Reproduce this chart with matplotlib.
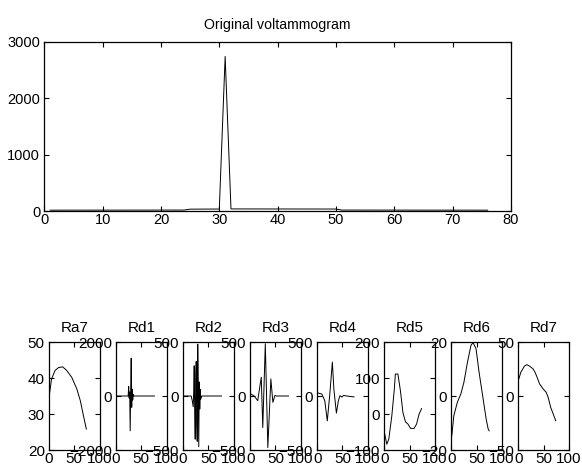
import matplotlib
matplotlib.use("Agg")
import matplotlib.pyplot as plt

plt.rcParams["font.family"] = ["Liberation Sans", "DejaVu Sans"]

# original voltammogram (points where the curve changes)
orig_x = [1, 24, 25, 30, 31, 32, 50, 51, 76]
orig_y = [20, 22, 38, 40, 2740, 42, 40, 22, 20]

# reconstructed components
ra7_x = [1, 5, 12, 19, 27, 35, 45, 55, 62, 69, 74]
ra7_y = [35.6, 39.7, 42.1, 42.9, 43.1, 42.1, 40.2, 37.0, 33.7, 29.0, 25.8]

rd1_x = [1, 24, 25, 26, 27, 28, 29, 30, 31, 32, 33, 34, 35, 76]
rd1_y = [0, 0, 360, -80, 150, -1290, 200, 1400, -420, 250, -150, 60, 0, 0]

rd2_x = [1, 16, 18, 20, 21, 22, 23, 24, 25, 26, 27, 28, 29, 30, 31, 32, 33, 34, 35, 37, 76]
rd2_y = [0, 0, -40, -100, 40, 280, -150, -400, 150, 320, -250, -420, 480, 120, -470, 130, -120, 60, -30, 0, 0]

rd3_x = [1, 8, 15, 22, 25, 30, 35, 41, 45, 49, 52, 76]
rd3_y = [20, 0, -43, 174, -292, 484, -478, 158, -59, 5, 0, 0]

rd4_x = [1, 9, 15, 20, 25, 30, 33, 38, 42, 45, 49, 52, 59, 66, 73]
rd4_y = [28, 19, -43, -230, 19, 314, 65, -158, -43, 3, -10, 5, 0, -5, -8]

rd5_x = [1, 5, 9, 15, 20, 22, 27, 32, 37, 42, 47, 52, 59, 64, 69, 74]
rd5_y = [-56, -84, -70, -5, 70, 111, 111, 65, 4, -22, -28, -40, -40, -28, 0, 15]

rd6_x = [1, 5, 12, 19, 25, 32, 39, 43, 49, 55, 62, 69, 73, 75]
rd6_y = [-14.8, -7.3, -2.3, 0.8, 5.1, 12.5, 18.8, 19.8, 17.5, 8.8, 0.2, -8.5, -12.2, -12.9]

rd7_x = [1, 5, 12, 17, 22, 29, 33, 37, 42, 49, 55, 59, 64, 69, 74]
rd7_y = [15.9, 22.0, 27.7, 29.0, 27.7, 25.2, 22.0, 17.5, 11.2, 6.6, 3.5, -1.2, -10.5, -16.6, -22.9]

panel_names = ["Ra7", "Rd1", "Rd2", "Rd3", "Rd4", "Rd5", "Rd6", "Rd7"]
panel_x = [ra7_x, rd1_x, rd2_x, rd3_x, rd4_x, rd5_x, rd6_x, rd7_x]
panel_y = [ra7_y, rd1_y, rd2_y, rd3_y, rd4_y, rd5_y, rd6_y, rd7_y]
panel_ylim = [(20, 50), (-2000, 2000), (-500, 500), (-500, 500),
              (-500, 500), (-100, 200), (-20, 20), (-50, 50)]
panel_yticks = [[20, 30, 40, 50], [-2000, 0, 2000], [-500, 0, 500], [-500, 0, 500],
                [-500, 0, 500], [-100, 0, 100, 200], [-20, 0, 20], [-50, 0, 50]]

W, H = 582, 468
fig = plt.figure(figsize=(W / 100, H / 100), dpi=100)


def style(ax, size):
    ax.tick_params(direction="in", top=True, right=True, length=3.5,
                   width=0.8, labelsize=size, colors="black")
    ax.tick_params(axis="x", pad=1.5)
    ax.tick_params(axis="y", pad=3)
    for s in ax.spines.values():
        s.set_linewidth(0.9)


# top plot
ax = fig.add_axes([44.3 / W, 1 - 211.3 / H, (511 - 44.3) / W, (211.3 - 41.7) / H])
ax.plot(orig_x, orig_y, color="black", lw=0.7)
ax.set_xlim(0, 80)
ax.set_ylim(0, 3000)
ax.set_xticks(range(0, 81, 10))
ax.set_yticks([0, 1000, 2000, 3000])
ax.set_title("Original voltammogram", fontsize=10.2, pad=9)
style(ax, 10.5)

# bottom panels
for i in range(8):
    left = 49 + i * 67.05
    a = fig.add_axes([left / W, 1 - 450 / H, 50.5 / W, (450 - 342) / H])
    a.plot(panel_x[i], panel_y[i], color="black", lw=0.7)
    a.set_xlim(0, 100)
    a.set_ylim(panel_ylim[i])
    a.set_xticks([0, 50, 100])
    a.set_yticks(panel_yticks[i])
    a.set_title(panel_names[i], fontsize=11, pad=7)
    style(a, 11)

fig.savefig("out.png", dpi=100)
